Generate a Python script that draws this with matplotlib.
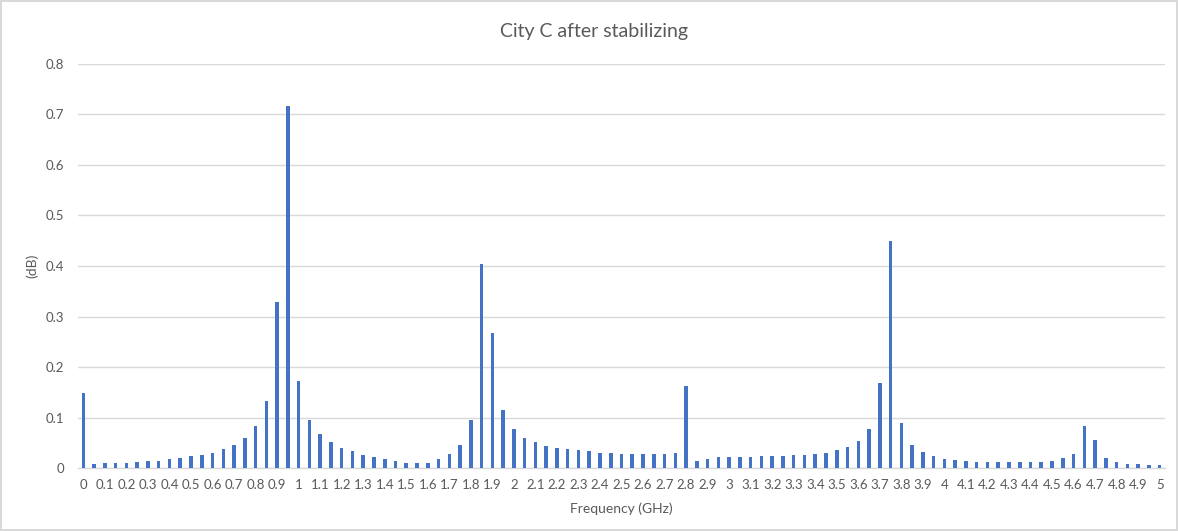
import numpy as np
import matplotlib
matplotlib.use('Agg')
import matplotlib.pyplot as plt

plt.rcParams['font.family'] = ['Lato', 'DejaVu Sans']

# Frekans adımları 0.05 GHz, 0 - 5 GHz
freq = [round(i * 0.05, 2) for i in range(101)]

db_values = [
    0.149, 0.007, 0.009, 0.009, 0.009, 0.012, 0.014, 0.014, 0.017, 0.019,  # 0 - 0.45
    0.023, 0.026, 0.030, 0.037, 0.045, 0.060, 0.083, 0.132, 0.329, 0.717,  # 0.5 - 0.95
    0.172, 0.096, 0.067, 0.051, 0.039, 0.034, 0.026, 0.021, 0.017, 0.014,  # 1.0 - 1.45
    0.010, 0.010, 0.010, 0.017, 0.028, 0.046, 0.096, 0.404, 0.267, 0.114,  # 1.5 - 1.95
    0.078, 0.060, 0.051, 0.044, 0.039, 0.037, 0.035, 0.033, 0.030, 0.030,  # 2.0 - 2.45
    0.028, 0.028, 0.028, 0.028, 0.028, 0.030, 0.162, 0.014, 0.018, 0.021,  # 2.5 - 2.95
    0.021, 0.021, 0.021, 0.024, 0.024, 0.024, 0.026, 0.026, 0.028, 0.030,  # 3.0 - 3.45
    0.036, 0.041, 0.053, 0.078, 0.169, 0.449, 0.089, 0.046, 0.032, 0.023,  # 3.5 - 3.95
    0.018, 0.016, 0.014, 0.012, 0.012, 0.012, 0.012, 0.012, 0.012, 0.012,  # 4.0 - 4.45
    0.014, 0.019, 0.028, 0.083, 0.055, 0.019, 0.012, 0.007, 0.007, 0.005,  # 4.5 - 4.95
    0.005,                                                                  # 5.0
]

y_ticks = [0, 0.1, 0.2, 0.3, 0.4, 0.5, 0.6, 0.7, 0.8]

text_color = '#595959'
grid_color = '#D9D9D9'
bar_color = '#4472C4'

fig = plt.figure(figsize=(11.78, 5.31), dpi=100)
fig.patch.set_facecolor('white')
fig.patch.set_edgecolor(grid_color)
fig.patch.set_linewidth(1.5)

ax = fig.add_axes([0.0662, 0.1186, 0.9228, 0.7609])

x = np.arange(len(freq))
ax.bar(x, db_values, width=0.33, color=bar_color, zorder=3)

ax.set_xlim(-0.5, len(freq) - 0.5)
ax.set_ylim(0, 0.8)
ax.set_yticks(y_ticks)
ax.set_yticklabels([f'{v:g}' for v in y_ticks])

# Her ikinci kategoriye etiket
ax.set_xticks(x[::2])
ax.set_xticklabels([f'{f:g}' for f in freq[::2]])

ax.tick_params(axis='both', length=0, colors=text_color, labelsize=9.5)
ax.tick_params(axis='x', pad=8)
ax.tick_params(axis='y', pad=10)

ax.grid(axis='y', color=grid_color, linewidth=1, zorder=0)
for side in ['top', 'right', 'left']:
    ax.spines[side].set_visible(False)
ax.spines['bottom'].set_color(grid_color)
ax.spines['bottom'].set_linewidth(1)

# Başlık tüm grafik alanına göre ortalanır
fig.text(0.504, 0.94, 'City C after stabilizing', color=text_color,
         fontsize=14, ha='center', va='center')
ax.set_xlabel('Frequency (GHz)', color=text_color, fontsize=10, labelpad=8)
ax.set_ylabel('(dB)', color=text_color, fontsize=10)
ax.yaxis.set_label_coords(-0.0368, 0.5)

fig.savefig('out.png', dpi=100)
